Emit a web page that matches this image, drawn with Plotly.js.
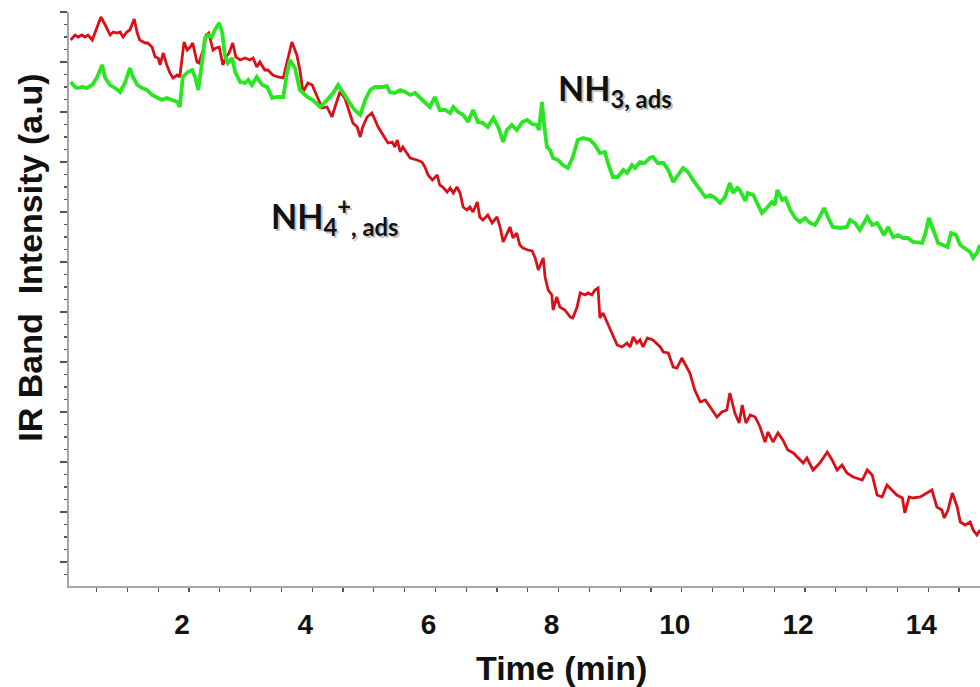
<!DOCTYPE html>
<html>
<head>
<meta charset="utf-8">
<script src="https://cdn.plot.ly/plotly-3.0.1.min.js"></script>
<style>
  html, body { margin: 0; padding: 0; background: #ffffff; }
  #chart { width: 980px; height: 687px; }
</style>
</head>
<body>
<div id="chart"></div>
<script>
// Time axis (min)
const redTime = [
  0.08,0.15,0.20,0.26,0.31,0.36,0.43,0.51,0.57,0.64,
  0.72,0.77,0.83,0.88,0.93,0.99,1.04,1.11,1.16,1.20,
  1.29,1.33,1.40,1.45,1.50,1.53,1.58,1.64,1.69,1.74,
  1.81,1.85,1.92,1.97,2.02,2.06,2.13,2.16,2.23,2.28,
  2.32,2.39,2.44,2.49,2.55,2.60,2.65,2.71,2.76,2.83,
  2.91,2.99,3.04,3.10,3.15,3.23,3.28,3.36,3.44,3.53,
  3.59,3.67,3.75,3.80,3.85,3.93,4.00,4.05,4.16,4.24,
  4.32,4.37,4.45,4.53,4.61,4.66,4.73,4.78,4.82,4.89,
  4.97,5.02,5.07,5.15,5.23,5.30,5.34,5.38,5.43,5.47,
  5.54,5.59,5.70,5.78,5.83,5.88,5.95,6.03,6.07,6.12,
  6.19,6.24,6.29,6.35,6.40,6.45,6.51,6.56,6.61,6.68,
  6.72,6.77,6.85,6.92,7.00,7.05,7.10,7.16,7.21,7.26,
  7.32,7.37,7.42,7.50,7.57,7.62,7.67,7.75,7.78,7.83,
  7.89,7.91,7.97,8.02,8.10,8.19,8.23,8.30,8.35,8.43,
  8.48,8.54,8.59,8.64,8.67,8.72,8.79,8.87,8.95,9.03,
  9.11,9.16,9.21,9.27,9.32,9.37,9.44,9.53,9.65,9.70,
  9.78,9.86,9.92,10.00,10.08,10.13,10.21,10.30,10.38,10.49,
  10.57,10.65,10.73,10.78,10.86,10.93,10.98,11.04,11.11,11.19,
  11.27,11.35,11.40,11.48,11.56,11.64,11.72,11.81,11.89,11.97,
  12.03,12.13,12.24,12.36,12.44,12.52,12.60,12.68,12.78,12.93,
  13.01,13.09,13.17,13.25,13.33,13.41,13.49,13.58,13.62,13.69,
  13.75,13.87,13.98,14.06,14.14,14.22,14.26,14.32,14.39,14.47,
  14.52,14.60,14.68,14.73,14.79,14.84
];
// NH4+, ads band intensity (a.u.)
const redIntensity = [
  560,565,563,565,563,565,560,573,583,575,
  565,568,567,568,563,568,570,581,567,560,
  557,557,553,543,542,535,547,535,527,522,
  525,523,558,550,553,557,538,537,550,565,
  567,550,552,553,535,543,547,557,543,540,
  542,540,542,533,538,530,530,525,523,522,
  537,558,545,530,508,517,515,508,492,493,
  483,493,508,502,487,477,473,463,473,483,
  487,480,473,465,457,458,453,460,448,453,
  447,442,440,438,433,425,420,425,415,413,
  408,412,407,413,407,393,390,393,388,398,
  383,380,385,377,383,373,358,367,373,362,
  367,355,352,350,349,342,330,342,323,310,
  305,290,303,293,290,283,282,293,307,305,
  307,305,310,312,282,287,277,267,255,253,
  257,253,263,257,260,253,262,260,253,248,
  247,233,232,242,233,227,210,198,200,190,
  183,188,190,207,187,177,195,177,185,183,
  173,158,168,158,167,160,150,147,142,137,
  142,130,137,148,140,130,135,127,123,120,
  130,125,105,103,115,110,105,102,87,103,
  102,103,107,110,93,90,82,90,107,93,
  78,75,78,70,65,70
];

const greenTime = [
  0.08,0.15,0.20,0.26,0.34,0.43,0.51,0.59,0.64,0.72,
  0.80,0.88,0.96,1.04,1.09,1.16,1.24,1.32,1.40,1.48,
  1.56,1.64,1.72,1.81,1.85,1.90,1.98,2.05,2.10,2.15,
  2.21,2.26,2.31,2.37,2.42,2.49,2.54,2.58,2.63,2.70,
  2.75,2.83,2.91,2.96,3.02,3.10,3.19,3.27,3.35,3.43,
  3.53,3.59,3.64,3.72,3.80,3.92,4.01,4.13,4.24,4.34,
  4.42,4.50,4.61,4.69,4.78,4.86,4.94,5.02,5.13,5.21,
  5.26,5.34,5.43,5.51,5.59,5.67,5.75,5.83,5.91,5.99,
  6.07,6.16,6.24,6.29,6.37,6.45,6.53,6.61,6.69,6.77,
  6.85,6.94,7.02,7.10,7.16,7.24,7.32,7.41,7.49,7.57,
  7.65,7.68,7.73,7.76,7.81,7.86,7.91,7.99,8.07,8.15,
  8.23,8.31,8.40,8.51,8.59,8.67,8.75,8.80,8.88,8.96,
  9.05,9.11,9.19,9.24,9.32,9.40,9.48,9.53,9.61,9.70,
  9.78,9.86,9.94,10.02,10.10,10.18,10.30,10.38,10.46,10.54,
  10.62,10.70,10.78,10.83,10.90,10.94,11.03,11.07,11.16,11.24,
  11.30,11.38,11.46,11.51,11.55,11.63,11.68,11.76,11.84,11.92,
  12.00,12.08,12.16,12.21,12.31,12.37,12.45,12.57,12.68,12.73,
  12.81,12.89,13.01,13.09,13.17,13.22,13.28,13.35,13.43,13.51,
  13.59,13.67,13.75,13.90,13.96,14.01,14.08,14.16,14.24,14.31,
  14.37,14.45,14.52,14.60,14.68,14.73,14.79,14.84
];
// NH3, ads band intensity (a.u.)
const greenIntensity = [
  518,513,512,513,512,515,523,535,522,515,
  512,508,517,532,523,515,512,510,505,502,
  500,502,500,498,493,523,528,530,523,510,
  537,562,565,563,570,577,567,545,537,542,
  528,518,517,520,515,523,515,513,502,503,
  503,527,540,532,510,503,500,493,500,507,
  515,507,497,490,485,500,510,513,513,514,
  508,507,510,508,505,507,502,497,493,503,
  490,490,487,493,488,485,478,490,478,477,
  473,482,473,458,470,475,470,478,480,476,
  475,470,498,478,453,450,442,440,435,432,
  443,460,462,460,455,447,448,437,423,423,
  430,427,435,432,438,437,442,443,437,437,
  430,418,425,432,428,420,410,403,405,402,
  397,403,417,407,412,410,399,407,405,395,
  387,392,398,395,410,400,402,390,382,378,
  382,377,375,380,392,383,373,372,373,380,
  377,370,383,375,377,372,365,373,363,365,
  362,362,358,357,368,382,370,357,355,353,
  367,365,355,352,348,342,347,355
];

const xTickVals = [2, 4, 6, 8, 10, 12, 14];
const xTickText = ['2', '4', '6', '8', '10', '12', '14'];
const labelNH3 = 'NH<sub>3, ads</sub>';
const labelNH4 = 'NH<sub>4</sub><sup>+</sup><sub>, ads</sub>';
const xTitle = 'Time (min)';
const yTitle = 'IR Band\u00a0 Intensity (a.u)';

const traces = [
  {
    x: redTime, y: redIntensity, type: 'scatter', mode: 'lines',
    line: { color: '#d81018', width: 2.8 }, hoverinfo: 'skip'
  },
  {
    x: greenTime, y: greenIntensity, type: 'scatter', mode: 'lines',
    line: { color: '#2ae622', width: 3.8 }, hoverinfo: 'skip'
  }
];

const labelFont = { family: 'Lato, "Open Sans", sans-serif', size: 34, color: '#111111', weight: 'bold' };
const shadowFont = { family: 'Lato, "Open Sans", sans-serif', size: 34, color: 'rgba(0,0,0,0.25)', weight: 'bold' };

function speciesLabel(text, x, y, font, dx, dy) {
  return {
    text: text, x: x, y: y, xref: 'x', yref: 'y',
    xanchor: 'left', yanchor: 'middle', showarrow: false,
    font: font, xshift: dx, yshift: dy
  };
}

const boldArial = { family: 'Arial, "Liberation Sans", sans-serif', color: '#111111', weight: 'bold' };

const layout = {
  width: 980, height: 687,
  margin: { l: 69, r: 0, t: 12, b: 101, pad: 0 },
  paper_bgcolor: '#ffffff', plot_bgcolor: '#ffffff',
  showlegend: false,
  xaxis: {
    range: [0.052, 14.84],
    showgrid: false, zeroline: false,
    showline: true, linecolor: '#a6a6a6', linewidth: 2,
    ticks: 'outside', ticklen: 4, tickwidth: 1.2, tickcolor: '#555555',
    tickmode: 'array', tickvals: xTickVals, ticktext: xTickText,
    minor: { dtick: 0.5, tick0: 0, ticks: 'outside', ticklen: 4, tickwidth: 1.2, tickcolor: '#555555' },
    tickfont: { family: 'Arial, "Liberation Sans", sans-serif', color: '#111111', weight: 'bold', size: 28 },
    ticklabelshift: -7,
    ticklabelstandoff: 8
  },
  yaxis: {
    range: [14, 588],
    showgrid: false, zeroline: false,
    showline: true, linecolor: '#a6a6a6', linewidth: 2,
    ticks: 'outside', ticklen: 7, tickwidth: 1.2, tickcolor: '#555555',
    tick0: 38, dtick: 50,
    minor: { dtick: 12.5, tick0: 38, ticks: 'outside', ticklen: 3, tickwidth: 1.2, tickcolor: '#555555' },
    showticklabels: false
  },
  annotations: [
    speciesLabel(labelNH3, 7.95, 510, shadowFont, 2, -2),
    speciesLabel(labelNH4, 3.30, 384, shadowFont, 2, -2),
    speciesLabel(labelNH3, 7.95, 510, labelFont, 0, 0),
    speciesLabel(labelNH4, 3.30, 384, labelFont, 0, 0),
    {
      text: xTitle, xref: 'paper', yref: 'paper', x: 0.541, y: -0.143,
      xanchor: 'center', yanchor: 'middle', showarrow: false,
      font: Object.assign({ size: 34 }, boldArial)
    },
    {
      text: yTitle, xref: 'paper', yref: 'paper', x: -0.0428, y: 0.572,
      xanchor: 'center', yanchor: 'middle', showarrow: false, textangle: -90,
      font: Object.assign({ size: 34 }, boldArial)
    }
  ]
};

Plotly.newPlot('chart', traces, layout, { displayModeBar: false, staticPlot: true });
</script>
</body>
</html>
